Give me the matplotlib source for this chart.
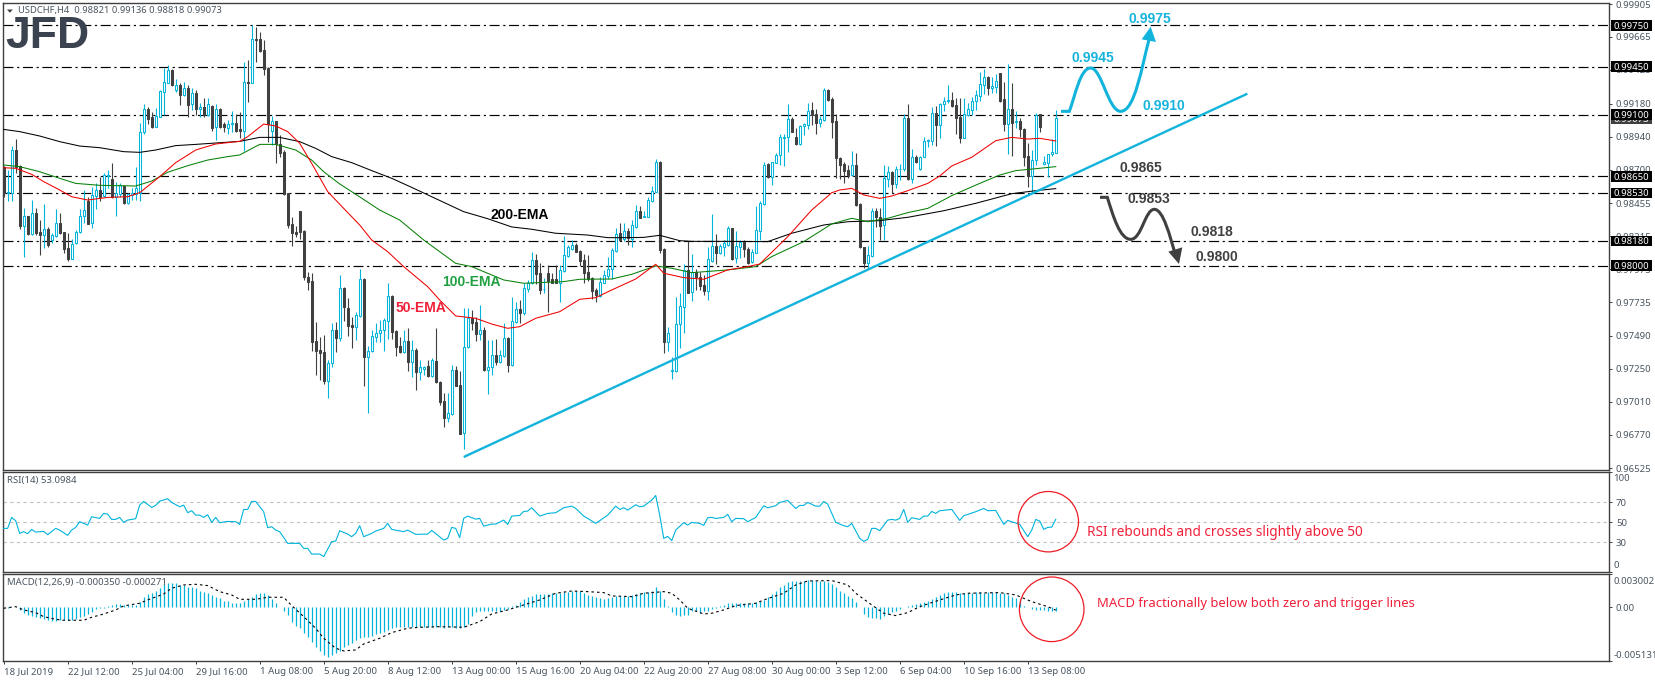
import numpy as np
import matplotlib
matplotlib.use("Agg")
import matplotlib.pyplot as plt
from matplotlib.patches import PathPatch, Ellipse, Polygon, Rectangle
from matplotlib.path import Path
from matplotlib.transforms import blended_transform_factory as blend

# ---------- data (prices in 1e-5 units) ----------
opens = [
98721,98529,98531,98842,98726,98289,98362,98231,98381,98243,
98223,98265,98187,98216,98308,98243,98129,98051,98163,98243,
98362,98471,98313,98507,98551,98507,98653,98628,98502,98522,
98580,98459,98515,98522,98527,98971,99141,99080,99012,99085,
99267,99332,99424,99279,99315,99242,99291,99177,99255,99143,
99158,99097,99162,99007,99141,99031,99005,99031,99036,98992,
98980,99337,99332,99648,99648,99570,99441,98983,99051,98886,
98825,98527,98303,98248,98398,98252,97915,97888,97452,97386,
97369,97163,97289,97529,97476,97835,97694,97566,97556,97636,
97903,97338,97376,97483,97508,97532,97600,97779,97527,97415,
97369,97452,97301,97386,97226,97250,97270,97197,97304,97156,
97015,96889,96920,97240,97131,96780,97406,97622,97590,97503,
97532,97240,97260,97350,97301,97343,97471,97277,97592,97682,
97658,97828,97872,98041,97944,97828,97944,97903,97903,97876,
97964,98073,98121,98150,98107,98041,97952,97908,97823,97782,
97876,97925,97976,98109,98240,98192,98252,98194,98284,98398,
98357,98357,98473,98539,98757,98121,97442,97233,97236,97575,
97702,97969,97811,97956,97920,97859,97818,98036,98143,98090,
98134,98150,98272,98053,98138,98172,98121,98027,98095,98255,
98449,98740,98648,98750,98803,98929,98934,99065,98934,98886,
99017,99027,99133,99104,99041,99060,99279,99211,99053,98786,
98740,98696,98660,98733,98449,98134,98022,98070,98398,98357,
98294,98628,98682,98592,98701,98701,99075,98633,98794,98701,
98794,98908,98910,99109,99026,99174,99199,99206,99170,99080,
98932,99097,99133,99201,99238,99318,99376,99296,99303,99400,
99213,99029,99141,99048,99053,98992,98798,98653,98769,99102,
98738,98750,98811,98821]
highs = [
98728,98696,98874,98920,98733,98417,98362,98478,98417,98332,
98449,98284,98236,98410,98381,98248,98236,98197,98260,98410,
98551,98502,98575,98604,98648,98672,98696,98745,98612,98604,
98587,98531,98563,98716,99036,99177,99153,99121,99145,99279,
99437,99461,99429,99356,99332,99339,99315,99291,99279,99182,
99218,99218,99170,99177,99145,99048,99060,99128,99102,99121,
99485,99497,99750,99735,99703,99643,99449,99090,99056,98951,
98842,98531,98357,98289,98400,98260,97956,97944,97592,97483,
97495,97313,97580,97592,97932,97842,97762,97629,97665,97973,
97908,97415,97532,97580,97605,97617,97872,97787,97532,97483,
97532,97544,97459,97398,97313,97270,97313,97325,97544,97161,
97071,97076,97277,97270,97236,97689,97689,97677,97629,97714,
97556,97459,97459,97464,97386,97580,97483,97770,97738,97750,
97872,97896,98102,98085,98017,97908,98005,97944,98005,98005,
98216,98150,98187,98168,98114,98085,98078,97920,97835,97920,
97969,98061,98126,98272,98308,98308,98272,98332,98442,98435,
98398,98502,98580,98777,98762,98126,97551,97333,97775,97804,
98012,98180,98085,97973,97956,97932,98138,98376,98231,98158,
98187,98289,98277,98252,98187,98187,98138,98119,98434,98473,
98752,98745,98757,98823,98959,98959,99177,99080,99000,99024,
99041,99182,99194,99138,99090,99296,99284,99230,99102,98794,
98757,98733,98837,98818,98454,98138,98143,98417,98417,98417,
98733,98726,98689,98726,98740,99104,99177,98849,98806,98801,
98934,98922,99158,99162,99187,99230,99315,99262,99218,99218,
99218,99182,99230,99279,99407,99432,99381,99376,99395,99400,
99339,99468,99327,99128,99073,99000,98891,98842,99109,99102,
98798,98811,98920,99136]
lows = [
98502,98471,98471,98672,98265,98061,98223,98223,98223,98078,
98126,98138,98163,98206,98228,98095,98036,98046,98155,98236,
98308,98303,98277,98410,98471,98497,98563,98490,98364,98502,
98449,98449,98478,98478,98471,98959,99031,99000,99007,99080,
99097,99327,99308,99267,99167,99238,99085,99133,99097,99085,
99085,99092,98983,98915,99000,98976,98956,98976,98976,98927,
98837,99194,99327,99485,99558,99388,98903,98878,98750,98794,
98515,98277,98143,98211,98197,97896,97823,97379,97204,97168,
97139,97037,97265,97374,97454,97600,97488,97398,97459,97629,
97124,96930,97374,97447,97447,97381,97466,97464,97343,97367,
97362,97236,97192,97095,97168,97204,97192,97192,97144,96986,
96828,96864,96913,97124,96775,96665,97398,97532,97454,97459,
97233,97063,97204,97277,97289,97338,97224,97270,97585,97585,
97641,97806,97867,97867,97794,97799,97665,97872,97872,97738,
97956,98066,98114,98097,97998,97872,97891,97755,97738,97775,
97872,97901,97903,98102,98182,98182,98150,98138,98277,98345,
98352,98352,98466,98534,98095,97362,97381,97173,97228,97398,
97512,97799,97743,97823,97823,97786,97750,98029,98012,98085,
98070,98143,98041,98017,98053,98066,98012,98022,98090,98187,
98442,98636,98587,98745,98733,98726,98830,98971,98878,98878,
98951,98997,99024,98959,99007,99053,99199,98932,98636,98631,
98599,98641,98653,98434,98126,97985,97981,98066,98284,98187,
98187,98575,98531,98563,98624,98692,98624,98599,98750,98696,
98789,98866,98876,98874,98932,99128,99182,99157,98959,98891,
98927,99090,99094,99133,99201,99250,99242,99255,99255,99194,
98983,98813,98801,99005,98939,98726,98575,98539,98733,98976,
98733,98643,98801,98818]
closes = [
98527,98536,98842,98721,98289,98362,98231,98381,98240,98223,
98265,98150,98221,98308,98236,98121,98046,98155,98243,98362,
98405,98303,98512,98551,98497,98660,98660,98502,98531,98585,
98454,98522,98531,98568,98971,99141,99068,99007,99090,99272,
99337,99424,99315,99315,99242,99291,99170,99255,99138,99155,
99097,99174,99000,99141,99007,99007,99029,99036,98983,98978,
99335,99332,99648,99643,99565,99432,99031,99051,98886,98818,
98522,98296,98240,98231,98248,97915,97884,97447,97381,97367,
97163,97289,97529,97476,97835,97697,97561,97556,97641,97903,
97338,97376,97488,97508,97532,97605,97779,97520,97410,97374,
97452,97301,97386,97228,97260,97265,97197,97313,97151,97010,
96889,96925,97240,97127,96777,97406,97622,97585,97503,97532,
97240,97260,97350,97301,97350,97471,97277,97597,97682,97658,
97838,97872,98041,97939,97823,97833,97886,97876,97876,97969,
98078,98134,98150,98102,98036,97949,97901,97816,97786,97879,
97930,97976,98114,98231,98187,98252,98199,98296,98398,98350,
98362,98478,98544,98752,98114,97442,97508,97240,97575,97706,
97969,97804,97956,97915,97852,97816,98046,98143,98090,98143,
98163,98272,98049,98143,98172,98119,98022,98097,98260,98454,
98733,98648,98752,98806,98934,98939,99065,98973,98886,99017,
99029,99128,99094,99036,99065,99279,99206,99046,98781,98733,
98689,98660,98733,98442,98138,98022,98078,98398,98357,98289,
98636,98679,98592,98704,98706,99075,98633,98789,98757,98794,
98908,98912,99109,99026,99177,99199,99206,99162,99077,98932,
99104,99138,99199,99242,99322,99371,99296,99308,99344,99201,
99029,99141,99036,99056,98992,98794,98653,98769,99097,99012,
98752,98811,98828,99073]

ema200_n = [0,4,9,14,19,24,30,34,38,43,48,53,59,64,69,74,78,82,87,92,97,102,107,112,115,121,127,132,138,146,151,156,160,164,169,172,180,191,197,205,211,219,226,235,243,252,258,263]
ema200_p = [98992,98976,98944,98903,98871,98859,98830,98825,98842,98874,98883,98893,98905,98934,98934,98903,98854,98794,98750,98692,98636,98570,98502,98434,98393,98342,98282,98265,98236,98223,98204,98204,98206,98221,98182,98177,98177,98175,98236,98296,98320,98328,98352,98400,98454,98524,98546,98561]
ema50_n = [0,3,7,10,14,17,21,26,31,34,39,43,48,53,59,61,65,68,71,74,77,81,85,89,92,96,100,106,109,113,118,122,126,129,133,139,144,148,152,158,163,165,170,175,181,186,189,196,202,207,209,212,215,219,222,226,231,234,237,242,248,252,256,259,263]
ema50_p = [98713,98709,98665,98612,98551,98502,98478,98497,98502,98531,98648,98750,98842,98886,98905,98939,99031,99017,98976,98891,98745,98539,98417,98296,98187,98102,97993,97847,97750,97634,97617,97575,97544,97556,97617,97665,97755,97767,97823,97903,98010,97945,97913,97901,97969,97993,98012,98211,98405,98531,98551,98563,98515,98490,98507,98546,98599,98653,98726,98789,98910,98934,98922,98927,98908]
ema100_n = [0,4,9,14,18,24,33,37,41,46,51,56,59,64,68,73,77,80,84,87,94,99,105,113,117,125,130,140,144,152,157,163,167,172,181,188,192,200,207,212,216,221,226,231,237,244,249,253,259,263]
ema100_p = [98733,98721,98684,98636,98599,98585,98580,98616,98680,98728,98769,98794,98806,98883,98883,98842,98769,98684,98595,98539,98405,98332,98187,98017,97993,97896,97872,97884,97901,97903,97937,97998,97981,97949,97969,97993,98066,98175,98304,98345,98320,98345,98386,98417,98510,98599,98660,98692,98709,98721]

rsi_n = [0,1,2,3,4,5,6,7,8,10,11,13,14,16,17,18,19,21,22,24,25,26,27,28,29,30,31,33,34,35,37,38,39,41,42,44,45,46,47,48,49,50,51,52,53,54,56,58,59,60,61,62,63,65,66,67,68,69,71,74,75,76,77,79,80,82,83,84,86,87,88,89,90,92,93,95,96,97,100,101,103,106,107,110,111,112,113,114,115,116,118,119,120,122,123,125,126,127,129,130,131,132,134,136,138,140,142,143,145,146,148,151,153,154,155,156,158,159,160,162,163,164,165,166,167,168,170,171,172,174,175,176,177,178,180,181,182,183,185,186,188,190,191,193,194,196,198,199,200,201,203,204,205,206,208,210,211,212,214,215,216,217,218,219,221,222,223,224,225,226,227,229,230,231,232,233,234,237,239,240,243,245,246,248,250,251,254,256,257,258,259,260,261,262,263]
rsi_v = [44,44,55,51.7,39,40.7,38.7,43,40.3,41,37.7,44,42.3,37,42.3,45,50.7,47.3,55.7,54,59,58.3,53,53,55,50,52.3,53.7,67.3,71,65,67,71.3,73.7,70,65.7,67.3,59.7,61.7,57.3,57.3,55,57.7,50,55,49.7,51,50.7,48,63,63,71,71,60.7,44.7,45.7,42.3,40.7,29,29,24,24,18.3,18.3,15.7,30.7,31.3,41.7,38.3,35.7,39,46.7,35.7,39,41.3,44,49,43,40.7,42.3,38,38.3,42,32.3,34,45,44,34.7,54,56.3,53.3,54,46.3,48.3,48.3,52.3,48,56.3,57,61,61.3,64.7,56.3,59,59.7,64.7,66.3,64,56.3,54,49,57.3,66.3,63,64.7,62.3,67.7,65.7,66.3,72.3,77,57.3,34,36,31.7,42.3,49.7,47.3,50,49,47,54.7,55,54,55,58,50.7,54,53.7,50.7,55,66.7,64.7,66.7,70,72,64,67,67,70,66.3,66.3,71,68.3,50,46.7,45.7,49,34,31,33,44,44,41.7,52.3,53,52.3,54,63,50,54.7,53,56.3,56.3,61,59,61.7,63,52,56.7,60.7,64,61.7,62,48,52,48,35.7,42.3,53,51.3,43,45,45.3,53.1]
rsi_levels = [70, 50, 30]

# MACD in 1e-5 units
macd_hist = [
0,-9,0,0,-25,-56,-72,-78,-88,-103,
-110,-119,-125,-125,-119,-119,-119,-119,-113,-94,
-81,-63,-41,-19,-9,-3,16,22,28,31,
22,22,22,22,53,100,125,138,157,179,
216,226,226,226,210,210,194,188,179,157,
141,132,116,100,85,63,60,44,38,38,
60,75,100,122,132,132,116,75,38,6,
-31,-72,-135,-172,-197,-238,-276,-329,-376,-414,
-448,-464,-448,-432,-407,-370,-354,-338,-310,-285,
-282,-276,-266,-250,-238,-229,-210,-194,-188,-188,
-182,-182,-182,-182,-188,-188,-188,-188,-188,-188,
-194,-188,-182,-197,-194,-188,-157,-78,-47,-38,
-38,-38,-31,-31,-31,-25,-16,9,25,47,
78,94,110,125,125,125,125,132,132,138,
141,147,157,157,150,132,119,103,94,85,
78,85,94,103,103,103,110,119,125,138,
141,147,150,188,157,78,16,-47,-69,-78,
-72,-69,-38,-38,-50,-38,-38,-16,-9,9,
25,41,41,41,38,38,38,41,47,56,
69,94,125,157,194,213,235,251,251,251,
251,257,257,251,251,244,238,219,188,157,
132,110,85,47,6,-63,-88,-100,-100,-110,
-78,-63,-47,-31,-16,6,16,22,31,44,
53,63,78,94,116,132,141,141,141,132,
132,132,138,141,141,138,141,141,141,138,
132,119,100,88,75,16,6,-16,-25,-25,
-22,-31,-38,-35]
signal_n = [0,3,5,8,10,13,15,20,22,25,28,30,34,36,40,42,45,48,51,54,57,59,63,66,70,72,75,78,80,83,85,88,90,94,97,101,104,109,115,119,122,126,130,134,138,142,146,150,152,157,160,165,167,169,171,175,177,180,183,188,190,195,198,201,207,211,213,217,220,223,226,229,234,238,241,249,253,257,261,263]
signal_v = [-9,6,-25,-50,-88,-113,-122,-122,-94,-63,-25,13,38,69,125,179,210,216,204,147,116,75,75,94,94,16,-88,-197,-291,-385,-410,-401,-345,-291,-238,-197,-188,-182,-188,-135,-63,-25,22,69,132,153,147,138,107,100,132,147,132,69,-9,-63,-56,-25,16,38,69,132,210,247,251,210,132,22,-56,-78,-50,6,69,116,132,138,116,53,6,-27]

level_prices = [0.9975, 0.9945, 0.9910, 0.9865, 0.9853, 0.9818, 0.9800]
price_ticks = [0.99905,0.99665,0.99425,0.99180,0.98940,0.98700,0.98455,0.98215,0.97975,0.97735,0.97490,0.97250,0.97010,0.96770,0.96525]
time_labels = ["18 Jul 2019","22 Jul 12:00","25 Jul 04:00","29 Jul 16:00","1 Aug 08:00","5 Aug 20:00","8 Aug 12:00","13 Aug 00:00","15 Aug 16:00","20 Aug 04:00","22 Aug 20:00","27 Aug 08:00","30 Aug 00:00","3 Sep 12:00","6 Sep 04:00","10 Sep 16:00","13 Sep 08:00"]
trend_n = [115, 310.9]
trend_p = [0.96607, 0.99252]

# ---------- style ----------
W, H = 1655, 682
plt.rcParams['font.family'] = ['Noto Sans', 'DejaVu Sans']
plt.rcParams['lines.scale_dashes'] = False
CY = '#00b4dc'; DK = '#404040'; FR = '#404040'; TXT = '#4a5560'
RED = '#f0203a'
BOLD = ['Liberation Sans']

fig = plt.figure(figsize=(W/100, H/100), dpi=100, facecolor='white')

def rect(l, t, r, b):
    return [l/W, 1-b/H, (r-l)/W, (b-t)/H]
def fx(x, y):
    return (x/W, 1-y/H)

ax = fig.add_axes(rect(2.5, 2.5, 1609, 469.5))
ax2 = fig.add_axes(rect(2.5, 471.5, 1609, 572.3))
ax3 = fig.add_axes(rect(2.5, 574.3, 1609, 660.7))
XL = (-0.29, 401.3)
for a in (ax, ax2, ax3):
    a.set_xlim(*XL)
    a.set_facecolor('white')
    for s in a.spines.values():
        s.set_color(FR); s.set_linewidth(1.0)
    a.tick_params(axis='y', right=True, left=False, labelright=True, labelleft=False,
                  length=2.5, width=0.7, color=FR, pad=2.5, labelsize=6.9, labelcolor=TXT)
    a.tick_params(axis='x', bottom=False, labelbottom=False)

# ---------- main panel ----------
ax.set_ylim(0.96516, 0.99916)
ax.set_yticks(price_ticks)
ax.set_yticklabels(['%.5f' % v for v in price_ticks])
DASH = (0, (7.2, 2.6, 1.6, 2.6))
for p in level_prices:
    ax.axhline(p, color='black', lw=0.85, ls=DASH, zorder=1.5)

O = np.array(opens)/1e5; Hi = np.array(highs)/1e5; Lo = np.array(lows)/1e5; C = np.array(closes)/1e5
n = np.arange(len(O))
up = C >= O
ax.vlines(n[up], Lo[up], Hi[up], color=CY, lw=0.8, zorder=3)
ax.vlines(n[~up], Lo[~up], Hi[~up], color=DK, lw=0.8, zorder=3)
ax.bar(n[~up], np.abs(C-O)[~up], bottom=np.minimum(O, C)[~up], width=0.5, facecolor=DK, edgecolor=DK, lw=0.75, zorder=3.1)
ax.bar(n[up], np.abs(C-O)[up], bottom=np.minimum(O, C)[up], width=0.5, facecolor='white', edgecolor=CY, lw=0.75, zorder=3.1)

ax.plot(ema200_n, np.array(ema200_p)/1e5, color='black', lw=0.75, zorder=4)
ax.plot(ema100_n, np.array(ema100_p)/1e5, color='#078007', lw=0.75, zorder=4)
ax.plot(ema50_n, np.array(ema50_p)/1e5, color='#f00000', lw=0.75, zorder=4)
ax.plot(trend_n, trend_p, color='#12b4dc', lw=1.7, zorder=4.5, solid_capstyle='butt')

# price boxes on axis
bt = blend(ax.transAxes, ax.transData)
bx0 = (1611-2.5)/(1609-2.5); bw = 40.7/(1609-2.5); bh = 10.6/13737
def pbox(p, col, z):
    ax.add_patch(Rectangle((bx0, p-bh/2), bw, bh, transform=bt, fc=col, ec=col, lw=0, clip_on=False, zorder=z))
    ax.text(bx0+bw/2, p, '%.5f' % p, transform=bt, ha='center', va='center_baseline', color='white', fontsize=6.9, zorder=z+0.1, clip_on=False)
pbox(C[-1], '#404040', 6)
for p in level_prices:
    pbox(p, 'black', 6.5)

# ---------- RSI ----------
ax2.set_ylim(0, 101)
for lv in rsi_levels:
    ax2.axhline(lv, color='#c0c0c0', lw=0.8, ls=(0, (2.4, 2.4)), zorder=1)
ax2.plot(rsi_n, rsi_v, color=CY, lw=0.8, zorder=3)
ax2.set_yticks([100, 70, 50, 30, 0])
ax2.set_yticklabels(['', '70', '50', '30', ''])
t2 = blend(ax2.transAxes, ax2.transData)
ax2.text(1.0027, 94, '100', transform=t2, fontsize=6.9, color=TXT, va='center', clip_on=False)
ax2.text(1.0027, 6.5, '0', transform=t2, fontsize=6.9, color=TXT, va='center', clip_on=False)

# ---------- MACD ----------
ax3.set_ylim(-0.00502, 0.0031)
ax3.vlines(n, 0, np.array(macd_hist)/1e5, color=CY, lw=0.9, zorder=2)
ax3.plot(signal_n, np.array(signal_v)/1e5, color='black', lw=0.8, ls=(0, (1.8, 2.2)), zorder=3)
ax3.set_yticks([0.0031, 0, -0.00502])
ax3.set_yticklabels(['', '0.00', ''])
t3 = blend(ax3.transAxes, ax3.transData)
ax3.text(1.0027, 0.00240, '0.003002', transform=t3, fontsize=6.9, color=TXT, va='center', clip_on=False)
ax3.text(1.0027, -0.00450, '-0.005131', transform=t3, fontsize=6.9, color=TXT, va='center', clip_on=False)
ax3.set_xticks(np.arange(len(time_labels))*16)
ax3.set_xticklabels(time_labels, ha='left')
ax3.tick_params(axis='x', bottom=True, labelbottom=True, length=2.5, width=0.7, color=FR, pad=2.2, labelsize=6.9, labelcolor=TXT)

# ---------- annotations, placed in figure coordinates ----------
def ftext(x, y, s, **kw):
    kw.setdefault('ha', 'center'); kw.setdefault('va', 'center')
    fig.text(*fx(x, y), s, zorder=20, **kw)

ftext(18.3, 10.7, 'USDCHF,H4  0.98821 0.99136 0.98818 0.99073', ha='left', fontsize=6.75, color=TXT)
ftext(7, 481, 'RSI(14) 53.0984', ha='left', fontsize=6.9, color=TXT)
ftext(7, 583, 'MACD(12,26,9) -0.000350 -0.000271', ha='left', fontsize=6.9, color=TXT)
fig.add_artist(Polygon([fx(7, 9.5), fx(12.8, 9.5), fx(9.9, 12.8)], closed=True, fc='#404040', ec='none', transform=fig.transFigure, zorder=20))

ftext(47.5, 37, 'JFD', fontsize=32, fontweight='bold', color='#3b4350', family=BOLD)

BF = dict(fontsize=10, fontweight='bold', family=BOLD)
for x, y, s in [(1150, 19, '0.9975'), (1093.3, 58.3, '0.9945'), (1164, 106, '0.9910')]:
    ftext(x, y, s, color='#16b4dc', **BF)
for x, y, s in [(1140.7, 168.3, '0.9865'), (1149, 199, '0.9853'), (1211.7, 232, '0.9818'), (1216.7, 257, '0.9800')]:
    ftext(x, y, s, color='#404040', **BF)
ftext(519.3, 215, '200-EMA', color='black', **BF)
ftext(471.3, 282.3, '100-EMA', color='#20a040', **BF)
ftext(421, 307.7, '50-EMA', color=RED, **BF)
ftext(1086.7, 533, 'RSI rebounds and crosses slightly above 50', ha='left', fontsize=9.8, color=RED)
ftext(1096.7, 604, 'MACD fractionally below both zero and trigger lines', ha='left', fontsize=9.4, color=RED)

for (cx, cy, r) in [(1048.3, 521.7, 30.2), (1051.7, 609.3, 32.3)]:
    fig.add_artist(Ellipse(fx(cx, cy), 2*r/W, 2*r/H, fc='none', ec='#ee1c25', lw=0.9, transform=fig.transFigure, zorder=15))

def z11(x, y):
    return fx(1030+x/3, y/3)
def curve(first, line_to, curves, col):
    v = [z11(*first), z11(*line_to)]
    c = [Path.MOVETO, Path.LINETO]
    for seg in curves:
        for pt in seg:
            v.append(z11(*pt)); c.append(Path.CURVE4)
    fig.add_artist(PathPatch(Path(v, c), fc='none', ec=col, lw=2.2, transform=fig.transFigure, zorder=15, capstyle='butt'))

curve((93, 334), (118, 334),
      [[(135, 290), (150, 204), (182, 204)], [(215, 204), (235, 334), (272, 334)], [(315, 334), (335, 200), (358, 115)]], '#12b4dc')
fig.add_artist(Polygon([z11(362, 80), z11(335, 118), z11(378, 126)], closed=True, fc='#12b4dc', ec='none', transform=fig.transFigure, zorder=15))
curve((210, 592), (232, 592),
      [[(250, 650), (270, 718), (302, 718)], [(335, 718), (345, 628), (373, 628)], [(400, 628), (420, 710), (435, 760)]], '#404040')
fig.add_artist(Polygon([z11(447, 792), z11(415, 755), z11(457, 742)], closed=True, fc='#404040', ec='none', transform=fig.transFigure, zorder=15))

fig.savefig('out.png', dpi=100, facecolor='white')
